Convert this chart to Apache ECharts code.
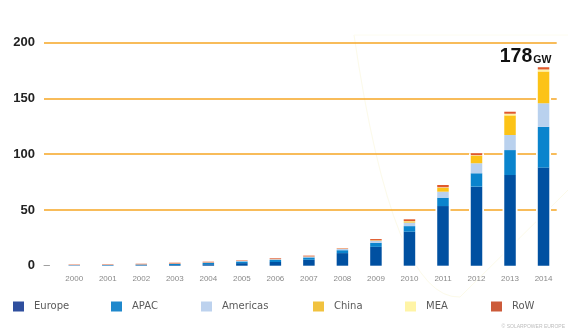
<!DOCTYPE html>
<html>
<head>
<meta charset="utf-8">
<script src="https://cdn.jsdelivr.net/npm/echarts@6/dist/echarts.min.js"></script>
<style>
  html, body { margin: 0; padding: 0; background: #ffffff; }
  #chart { width: 568px; height: 330px; }
</style>
</head>
<body>
<div id="chart"></div>
<script>
// Cumulative installed PV capacity by region, GW
const years = ['2000','2001','2002','2003','2004','2005','2006','2007','2008','2009','2010','2011','2012','2013','2014'];
const europe   = [0.15, 0.25, 0.4, 0.6, 1.3, 2.3, 3.3, 5.3, 11.3, 16.9, 30.5, 53.5, 70.9, 81.3, 88.0];
const apac     = [0.3, 0.4, 0.6, 1.0, 1.2, 1.5, 1.9, 2.1, 2.6, 3.6, 5.0, 7.5, 12.0, 22.4, 36.5];
const americas = [0.1, 0.15, 0.2, 0.3, 0.4, 0.5, 0.6, 0.8, 1.1, 1.9, 3.2, 5.4, 9.0, 13.5, 21.2];
const china    = [0.02, 0.03, 0.04, 0.05, 0.06, 0.07, 0.08, 0.1, 0.14, 0.3, 1.0, 3.3, 6.5, 17.6, 28.5];
const mea      = [0.01, 0.01, 0.01, 0.02, 0.02, 0.02, 0.02, 0.03, 0.05, 0.1, 0.3, 0.6, 0.7, 1.5, 1.8];
const row      = [0.4, 0.4, 0.5, 0.7, 0.6, 0.4, 0.7, 0.7, 0.4, 1.1, 1.6, 2.1, 1.8, 1.8, 2.0];
const yTicks   = [0, 50, 100, 150, 200];
const unit = 'GW';

const regions = [
  { name: 'Europe',   data: europe,   color: '#0050a1', legend: '#2f4f9e' },
  { name: 'APAC',     data: apac,     color: '#0a84cd', legend: '#1f88cc' },
  { name: 'Americas', data: americas, color: '#b9d1ee', legend: '#bdd2ee' },
  { name: 'China',    data: china,    color: '#fcc317', legend: '#f1c23f' },
  { name: 'MEA',      data: mea,      color: '#fff4a6', legend: '#fff4a6' },
  { name: 'RoW',      data: row,      color: '#e0592b', legend: '#cc5b3a' }
];

const totals = years.map((_, i) => regions.reduce((s, r) => s + r.data[i], 0));
const lastIdx = years.length - 1;

const plotTop = 42.7, plotBottom = 64.3;
const yMin = yTicks[0], yMax = yTicks[yTicks.length - 1], yStep = yTicks[1] - yTicks[0];
const gridColor = '#f6a623';
const watermark = '#fcfae9';

// legend entries, one legend per region so each sits at its own column
const legendLefts = [13, 111, 201, 313, 405, 491];
const legends = regions.map((r, i) => ({
  left: legendLefts[i], top: 301.5, padding: 0,
  icon: 'rect', itemWidth: 11, itemHeight: 10,
  selectedMode: false,
  data: [{ name: r.name, itemStyle: { color: r.legend } }],
  textStyle: { fontFamily: 'DejaVu Sans', fontSize: 10, color: '#5a5a5a', padding: [0, 0, 0, 5] }
}));

const stackSeries = regions.map((r, idx) => {
  const s = {
    name: r.name, type: 'bar', stack: 'total',
    xAxisIndex: 1, yAxisIndex: 1, z: 3,
    barWidth: 11.5,
    itemStyle: { color: r.color },
    data: r.data.slice()
  };
  if (idx === regions.length - 1) {
    s.data = r.data.map((v, i) => i === lastIdx ? {
      value: v,
      label: {
        show: true, position: 'top', distance: 1, offset: [-18, 0],
        formatter: () => '{a|' + Math.round(totals[lastIdx]) + '}{b|' + unit + '}',
        rich: {
          a: { fontFamily: 'Liberation Sans', fontWeight: 'bold', fontSize: 19.5, color: '#111', verticalAlign: 'bottom' },
          b: { fontFamily: 'Liberation Sans', fontWeight: 'bold', fontSize: 10.5, color: '#111', verticalAlign: 'bottom', padding: [0, 0, 1, 1] }
        }
      }
    } : v);
  }
  return s;
});

const option = {
  backgroundColor: '#ffffff',
  animation: false,
  legend: legends,
  grid: [
    { left: 44, right: 11.3, top: plotTop, bottom: plotBottom },   // gridlines + y labels
    { left: 57.5, right: 7.7, top: plotTop, bottom: plotBottom },  // stacked bars
    { left: 57.5, right: 7.7, top: plotTop, bottom: plotBottom },  // white halo behind bars
    { left: 44, width: 5.5, top: plotTop, bottom: plotBottom }     // short baseline stub
  ],
  xAxis: [
    { gridIndex: 0, type: 'value', min: 0, max: 1, show: false },
    { gridIndex: 1, type: 'category', data: years,
      axisLine: { show: false }, axisTick: { show: false },
      axisLabel: { fontFamily: 'Liberation Sans', fontSize: 8, color: '#8a8a8a', margin: 9 } },
    { gridIndex: 2, type: 'category', data: years, show: false },
    { gridIndex: 3, type: 'value', min: 0, max: 1, position: 'bottom',
      axisLine: { show: true, lineStyle: { color: '#a0a0a0', width: 1 } },
      axisTick: { show: false }, axisLabel: { show: false }, splitLine: { show: false } }
  ],
  yAxis: [
    { gridIndex: 0, type: 'value', min: yMin, max: yMax, interval: yStep,
      axisLine: { show: false }, axisTick: { show: false },
      axisLabel: { fontFamily: 'Liberation Sans', fontWeight: 'bold', fontSize: 13, color: '#222', margin: 9 },
      splitLine: { show: true, lineStyle: { color: ['transparent', gridColor, gridColor, gridColor, gridColor], width: 1.6 } } },
    { gridIndex: 1, type: 'value', min: yMin, max: yMax, show: false, splitLine: { show: false } },
    { gridIndex: 2, type: 'value', min: yMin, max: yMax, show: false, splitLine: { show: false } },
    { gridIndex: 3, type: 'value', min: yMin, max: yMax, show: false, splitLine: { show: false } }
  ],
  graphic: [
    // faint sun watermark
    { type: 'bezierCurve', silent: true, z: -10,
      shape: { x1: 354, y1: 35, x2: 460, y2: 297, cpx1: 393, cpy1: 300 },
      style: { stroke: watermark, lineWidth: 1, fill: null } },
    { type: 'line', silent: true, z: -10,
      shape: { x1: 460, y1: 297, x2: 568, y2: 190 },
      style: { stroke: watermark, lineWidth: 1 } },
    { type: 'line', silent: true, z: -10,
      shape: { x1: 354, y1: 35, x2: 568, y2: 35 },
      style: { stroke: '#fdfcf0', lineWidth: 1 } },
    { type: 'text', right: 3, top: 324,
      style: { text: '© SOLARPOWER EUROPE', fontFamily: 'Liberation Sans', fontSize: 5, fill: '#bdbdbd' } }
  ],
  series: [
    { name: 'halo', type: 'bar', xAxisIndex: 2, yAxisIndex: 2, z: 2,
      barWidth: 15, silent: true, itemStyle: { color: '#ffffff' },
      data: totals },
    ...stackSeries
  ]
};

const chart = echarts.init(document.getElementById('chart'), null, { renderer: 'canvas' });
chart.setOption(option);
</script>
</body>
</html>
